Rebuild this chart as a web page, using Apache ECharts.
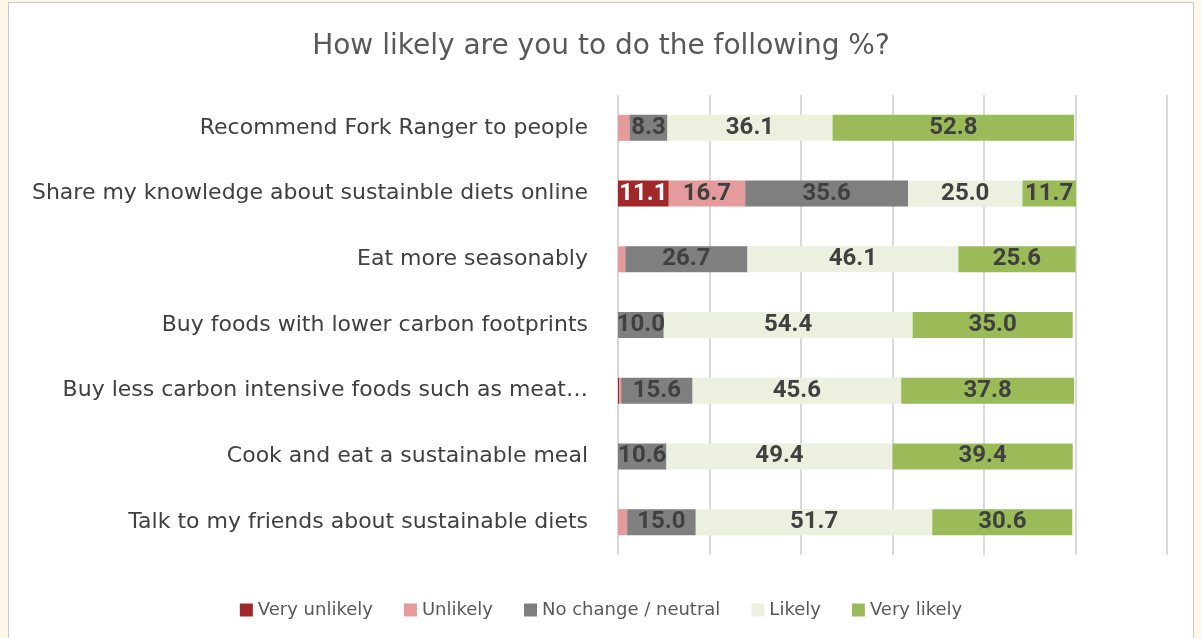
<!DOCTYPE html>
<html>
<head>
<meta charset="utf-8">
<script src="https://cdn.jsdelivr.net/npm/echarts@6/dist/echarts.min.js"></script>
<style>
  html, body { margin:0; padding:0; background:#FFF8E9; width:1201px; height:638px; overflow:hidden; }
  #chart { position:absolute; left:8px; top:2px; width:1184px; height:640px; border:1px solid #c9c9c9; background:#ffffff; }
</style>
</head>
<body>
<div id="chart"></div>
<script>
const categories = [
  "Recommend Fork Ranger to people",
  "Share my knowledge about sustainble diets online",
  "Eat more seasonably",
  "Buy foods with lower carbon footprints",
  "Buy less carbon intensive foods such as meat…",
  "Cook and eat a sustainable meal",
  "Talk to my friends about sustainable diets"
];
const veryUnlikely = [0, 11.1, 0, 0, 0.3, 0, 0];
const unlikely     = [2.5, 16.7, 1.6, 0, 0.4, 0, 2.0];
const neutral      = [8.3, 35.6, 26.7, 10.0, 15.6, 10.6, 15.0];
const likely       = [36.1, 25.0, 46.1, 54.4, 45.6, 49.4, 51.7];
const veryLikely   = [52.8, 11.7, 25.6, 35.0, 37.8, 39.4, 30.6];
const seriesNames = ["Very unlikely", "Unlikely", "No change / neutral", "Likely", "Very likely"];
const seriesColors = ["#A0282B", "#E59A9B", "#7F7F7F", "#EBF1DE", "#9BBB59"];
const labelColors = ["#ffffff", "#404040", "#404040", "#404040", "#404040"];
const xTicks = [0, 20, 40, 60, 80, 100, 120];

const seriesData = [veryUnlikely, unlikely, neutral, likely, veryLikely];
const chart = echarts.init(document.getElementById('chart'), null, { renderer: 'canvas' });
const labelFont = "'Roboto', sans-serif";
const textFont = "'DejaVu Sans', sans-serif";

chart.setOption({
  animation: false,
  backgroundColor: '#ffffff',
  title: {
    text: 'How likely are you to do the following %?',
    left: 'center',
    top: 25,
    textStyle: { fontFamily: textFont, fontSize: 28, fontWeight: 'normal', color: '#595959' }
  },
  legend: {
    data: seriesNames,
    left: 'center',
    top: 593,
    itemWidth: 13,
    itemHeight: 13,
    itemGap: 31,
    icon: 'rect',
    textStyle: { fontFamily: textFont, fontSize: 18, color: '#595959' }
  },
  grid: { left: 609, right: 26, top: 92, height: 460, containLabel: false },
  xAxis: {
    type: 'value',
    min: xTicks[0],
    max: xTicks[xTicks.length - 1],
    interval: xTicks[1] - xTicks[0],
    axisLabel: { show: false },
    axisLine: { show: false },
    axisTick: { show: false },
    splitLine: { show: true, lineStyle: { color: '#D9D9D9', width: 2 } }
  },
  yAxis: {
    type: 'category',
    data: categories,
    inverse: true,
    axisLine: { show: false },
    axisTick: { show: false },
    axisLabel: { margin: 30, fontFamily: textFont, fontSize: 22, color: '#404040' }
  },
  series: seriesNames.map((name, i) => ({
    name: name,
    type: 'bar',
    stack: 'total',
    barWidth: 26,
    data: seriesData[i],
    itemStyle: { color: seriesColors[i] },
    label: {
      show: true,
      position: 'inside',
      fontFamily: labelFont,
      fontSize: 24,
      fontWeight: 'bold',
      color: labelColors[i],
      formatter: p => (p.value >= 5 ? p.value.toFixed(1) : '')
    }
  }))
});
</script>
</body>
</html>
